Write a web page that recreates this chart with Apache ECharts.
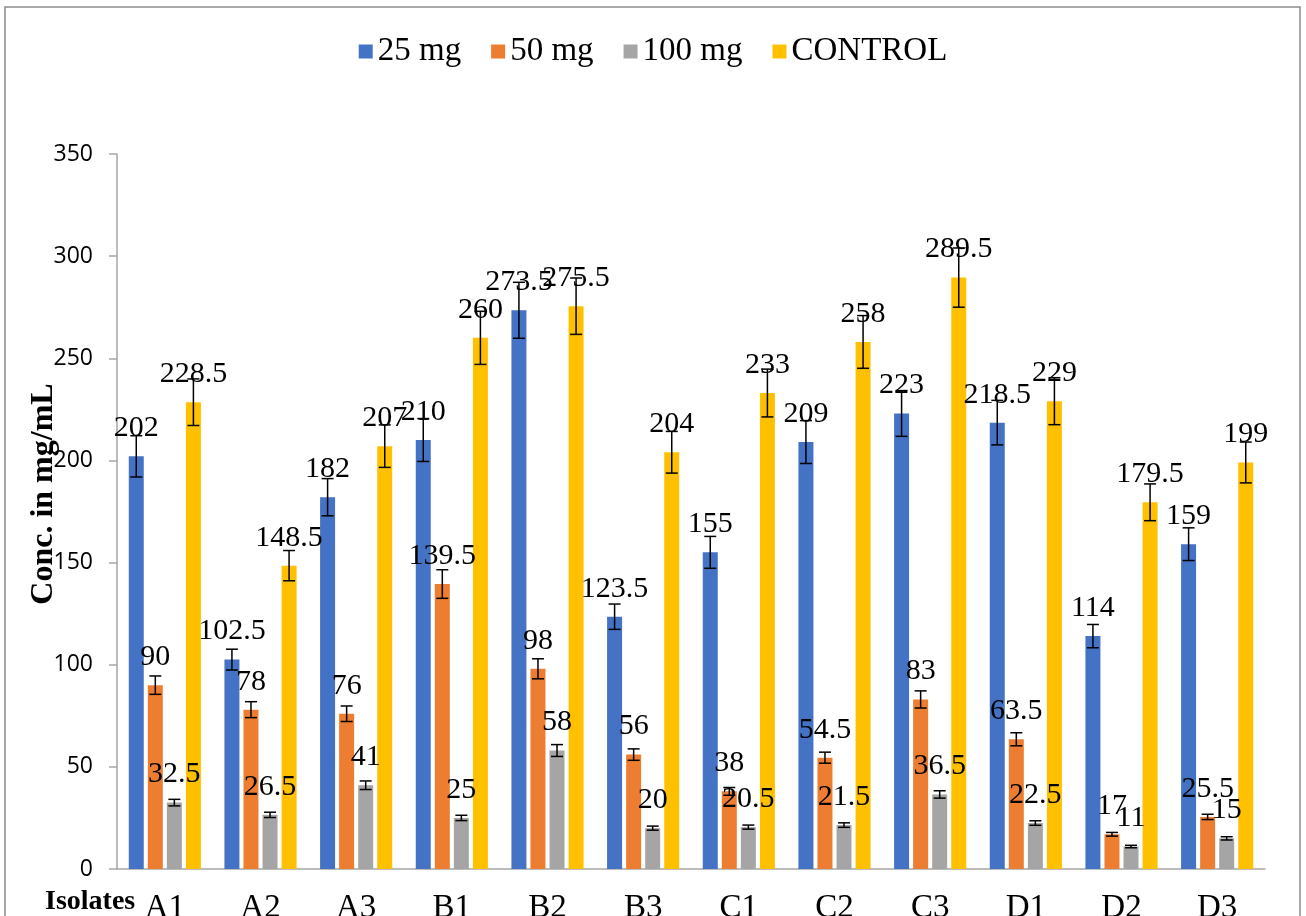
<!DOCTYPE html>
<html>
<head>
<meta charset="utf-8">
<script src="https://cdn.jsdelivr.net/npm/echarts@6/dist/echarts.min.js"></script>
<style>
html,body{margin:0;padding:0;background:#fff;}
#chart{width:1306px;height:916px;}
</style>
</head>
<body>
<div id="chart"></div>
<script>
const categories = ['A1','A2','A3','B1','B2','B3','C1','C2','C3','D1','D2','D3'];
const seriesNames = ['25 mg','50 mg','100 mg','CONTROL'];
const mg25 = [202, 102.5, 182, 210, 273.5, 123.5, 155, 209, 223, 218.5, 114, 159];
const mg50 = [90, 78, 76, 139.5, 98, 56, 38, 54.5, 83, 63.5, 17, 25.5];
const mg100 = [32.5, 26.5, 41, 25, 58, 20, 20.5, 21.5, 36.5, 22.5, 11, 15];
const control = [228.5, 148.5, 207, 260, 275.5, 204, 233, 258, 289.5, 229, 179.5, 199];
const err25 = [10.1, 5.1, 9.1, 10.5, 13.7, 6.2, 7.8, 10.5, 11.2, 10.9, 5.7, 8.0];
const err50 = [4.5, 3.9, 3.8, 7.0, 4.9, 2.8, 1.9, 2.7, 4.2, 3.2, 0.9, 1.3];
const err100 = [1.6, 1.3, 2.1, 1.3, 2.9, 1.0, 1.0, 1.1, 1.8, 1.1, 0.6, 0.8];
const errControl = [11.4, 7.4, 10.4, 13.0, 13.8, 10.2, 11.7, 12.9, 14.5, 11.5, 9.0, 10.0];
const yTicks = [0, 50, 100, 150, 200, 250, 300, 350];

const values = [mg25, mg50, mg100, control];
const errors = [err25, err50, err100, errControl];
const colors = ['#4472C4', '#ED7D31', '#A5A5A5', '#FFC000'];
const BAR_W = 15;
const GAP = 0.27;
const serif = '"Liberation Serif", "Times New Roman", serif';

const chart = echarts.init(document.getElementById('chart'), null, {renderer: 'canvas'});

const barSeries = values.map((v, s) => ({
  name: seriesNames[s],
  type: 'bar',
  data: v,
  barWidth: BAR_W,
  barGap: (GAP * 100) + '%',
  itemStyle: {color: colors[s]},
  label: {
    show: true,
    position: 'top',
    distance: 13,
    color: '#000',
    fontFamily: serif,
    fontSize: 30
  },
  z: 2
}));

const errSeries = values.map((v, s) => ({
  type: 'custom',
  name: seriesNames[s] + ' err',
  data: v.map((val, i) => [i, val - errors[s][i], val + errors[s][i]]),
  encode: {x: 0, y: [1, 2]},
  z: 10,
  silent: true,
  tooltip: {show: false},
  renderItem: function (params, api) {
    const i = api.value(0);
    const lo = api.coord([i, api.value(1)]);
    const hi = api.coord([i, api.value(2)]);
    const off = (s - 1.5) * BAR_W * (1 + GAP);
    const x = lo[0] + off;
    const cw = 6;
    const st = {stroke: '#000', lineWidth: 1.5};
    return {
      type: 'group',
      children: [
        {type: 'line', shape: {x1: x, y1: lo[1], x2: x, y2: hi[1]}, style: st},
        {type: 'line', shape: {x1: x - cw, y1: lo[1], x2: x + cw, y2: lo[1]}, style: st},
        {type: 'line', shape: {x1: x - cw, y1: hi[1], x2: x + cw, y2: hi[1]}, style: st}
      ]
    };
  }
}));

const option = {
  animation: false,
  backgroundColor: '#fff',
  legend: {
    data: seriesNames,
    top: 30,
    left: 'center',
    itemWidth: 14,
    itemHeight: 14,
    itemGap: 30,
    icon: 'rect',
    textStyle: {fontFamily: serif, fontSize: 33, color: '#000'}
  },
  grid: {left: 117, right: 41, top: 154, bottom: 47, containLabel: false, outerBoundsMode: 'none'},
  xAxis: {
    type: 'category',
    data: categories,
    axisTick: {show: false},
    axisLine: {lineStyle: {color: '#A6A6A6', width: 1.5}},
    axisLabel: {fontFamily: serif, fontSize: 33, color: '#000', margin: 23, interval: 0}
  },
  yAxis: {
    type: 'value',
    min: yTicks[0],
    max: yTicks[yTicks.length - 1],
    interval: yTicks[1] - yTicks[0],
    splitLine: {show: false},
    axisLine: {show: true, lineStyle: {color: '#A6A6A6', width: 1.5}},
    axisTick: {show: true, length: 8, inside: false, lineStyle: {color: '#A6A6A6', width: 1.5}},
    axisLabel: {fontFamily: '"Open Sans", sans-serif', fontSize: 23, color: '#000', margin: 24}
  },
  graphic: [
    {type: 'rect', shape: {x: 5, y: 7, width: 1295, height: 940}, style: {fill: 'none', stroke: '#8C8C8C', lineWidth: 1.5}, z: 0},
    {type: 'text', x: 44, y: 494, rotation: Math.PI / 2,
      style: {text: 'Conc. in mg/mL', font: 'bold 32px ' + serif, fill: '#000', textAlign: 'center', textVerticalAlign: 'middle'}},
    {type: 'text', x: 45, y: 902,
      style: {text: 'Isolates', font: 'bold 28px ' + serif, fill: '#000', textAlign: 'left', textVerticalAlign: 'middle'}}
  ],
  series: barSeries.concat(errSeries)
};
chart.setOption(option);
</script>
</body>
</html>
